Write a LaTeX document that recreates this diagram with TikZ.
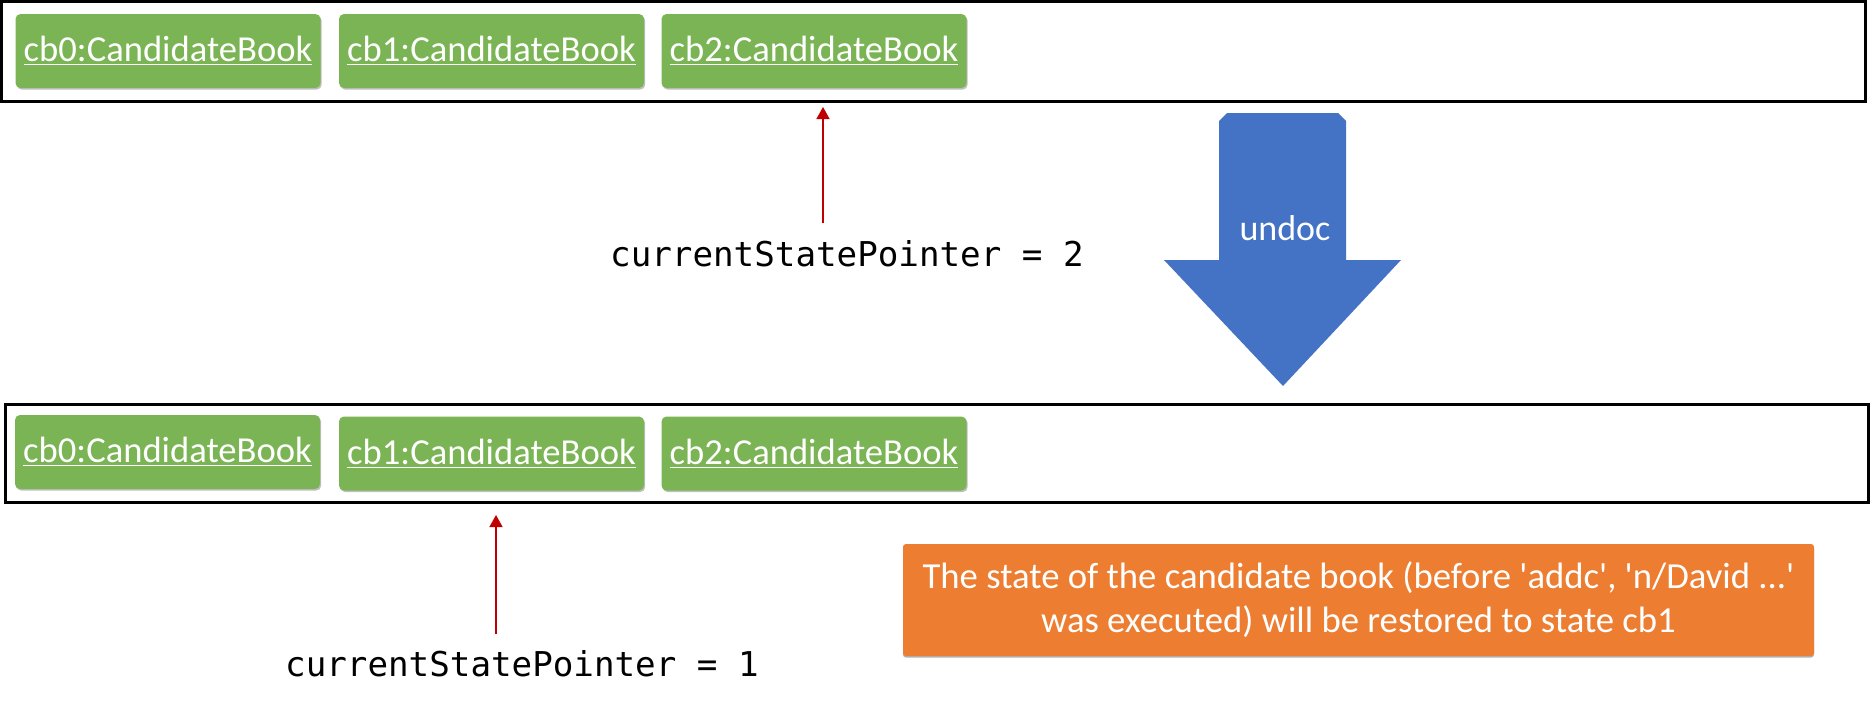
\documentclass[tikz,border=0pt]{standalone}
\usepackage{fontspec}
\setmainfont{Carlito}
\newfontfamily\monofnt{DejaVu Sans Mono}
\usetikzlibrary{arrows.meta,shadows,positioning}
\definecolor{bookgreen}{HTML}{7BB454}
\definecolor{notecol}{HTML}{ED7D31}
\definecolor{undoblue}{HTML}{4472C4}
\definecolor{ptrred}{HTML}{C00000}
\newcommand{\sq}{\textquotesingle}
\tikzset{
  frame/.style={draw=black, line width=1.5pt, fill=white},
  bookbox/.style={fill=bookgreen, rounded corners=2.5pt, minimum width=152.5pt, minimum height=37pt,
     inner sep=0pt, text=white, font=\fontsize{18.3}{20}\selectfont,
     drop shadow={shadow xshift=0.6pt, shadow yshift=-0.8pt, opacity=0.25, fill=black}},
  ptrtext/.style={font=\monofnt\fontsize{17.1}{19}\selectfont, text=black, inner sep=0pt},
  ptrarrow/.style={draw=ptrred, line width=0.75pt, -{Triangle[width=6.5pt,length=6pt]}},
  notebox/.style={fill=notecol, rounded corners=1.5pt, text=white, align=center,
     font=\fontsize{18.35}{22}\selectfont, minimum width=455.5pt, minimum height=56pt, inner sep=0pt,
     drop shadow={shadow xshift=0pt, shadow yshift=-0.8pt, opacity=0.3, fill=black}},
}
\begin{document}
\begin{tikzpicture}[x=0.5pt, y=-0.5pt]
\useasboundingbox (0,0) rectangle (1870,709);
\fill[white] (0,0) rectangle (1870,709);
% frames
\draw[frame] (1.5,1.5) rectangle (1865,101);
\draw[frame] (5.5,404) rectangle (1868,502);
% top books
\node[bookbox] (t0) at (168,51) {\underline{cb0:CandidateBook}};
\node[bookbox] (t1) at (491.5,51) {\underline{cb1:CandidateBook}};
\node[bookbox] (t2) at (814,51) {\underline{cb2:CandidateBook}};
% bottom books
\node[bookbox] (b0) at (167.5,452) {\underline{cb0:CandidateBook}};
\node[bookbox] (b1) at (491.5,453.5) {\underline{cb1:CandidateBook}};
\node[bookbox] (b2) at (814,453.5) {\underline{cb2:CandidateBook}};
% pointer texts
\node[ptrtext] (p2) at (847,254) {currentStatePointer = 2};
\node[ptrtext] (p1) at (522,664) {currentStatePointer = 1};
\coordinate (a2s) at (823,223);
\coordinate (a2e) at (823,107);
\coordinate (a1s) at (496,634);
\coordinate (a1e) at (496,515);
\draw[ptrarrow] (a2s) -- (a2e);
\draw[ptrarrow] (a1s) -- (a1e);
% undo arrow
\fill[undoblue] (1219,121) -- (1227,113) -- (1338,113) -- (1346,121) -- (1346,260)
  -- (1401,260) -- (1283,386) -- (1164,260) -- (1219,260) -- cycle;
\node[text=white, font=\fontsize{18}{20}\selectfont, inner sep=0pt] (undo) at (1285,228) {undoc};
% note
\node[notebox] (note) at (1358.5,600) {The state of the candidate book (before \sq addc\sq, \sq n/David ...\sq\\was executed) will be restored to state cb1};
\end{tikzpicture}
\end{document}
